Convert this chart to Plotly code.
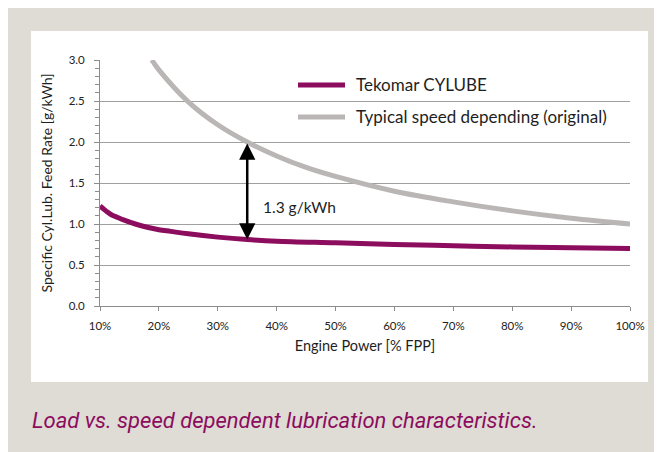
import plotly.graph_objects as go

# Data
power_cylube = [10, 11, 12, 13, 14, 16, 18, 20, 22, 25, 30, 35, 40, 50, 60, 70, 80, 90, 100]
rate_cylube = [1.22, 1.16, 1.11, 1.08, 1.05, 1.00, 0.96, 0.93, 0.91, 0.88, 0.84, 0.81, 0.79, 0.77, 0.75, 0.735, 0.72, 0.71, 0.70]

power_speed = [18.8, 20, 25, 30, 35, 40, 45, 50, 60, 70, 80, 90, 100]
rate_speed = [3.0, 2.88, 2.49, 2.21, 2.0, 1.83, 1.69, 1.58, 1.40, 1.27, 1.16, 1.07, 1.0]

x_ticks = [10, 20, 30, 40, 50, 60, 70, 80, 90, 100]
y_ticks = [0.0, 0.5, 1.0, 1.5, 2.0, 2.5, 3.0]

name_cylube = "Tekomar CYLUBE"
name_speed = "Typical speed depending (original)"
gap_label = "1.3 g/kWh"
gap_x = 35
gap_low, gap_high = 0.81, 2.0

PURPLE = "#8c0c5e"
GRAY = "#bab6b6"
BEIGE = "#dfdbd5"
FONT = "Lato, 'Open Sans', sans-serif"

# The page body adds an 8px white margin; the figure fills the rest of the window.
OFF = 8
W, H = 662 - OFF, 452 - OFF
# plot-area pixel geometry (window coordinates)
L, R, T, B = 100, 630, 60, 306
def px(x):
    return (x - L) / (R - L)
def py(y):
    return (B - y) / (B - T)

fig = go.Figure()
fig.add_trace(go.Scatter(x=power_speed, y=rate_speed, mode="lines", name=name_speed,
                         line=dict(color=GRAY, width=5, shape="spline"), showlegend=False))
fig.add_trace(go.Scatter(x=power_cylube, y=rate_cylube, mode="lines", name=name_cylube,
                         line=dict(color=PURPLE, width=5, shape="spline"), showlegend=False))

shapes = [
    dict(type="rect", xref="paper", yref="paper", x0=px(0), x1=px(700), y0=py(500), y1=py(OFF),
         fillcolor=BEIGE, line=dict(width=0), layer="below"),
    dict(type="rect", xref="paper", yref="paper", x0=px(31), x1=px(648), y0=py(382), y1=py(31),
         fillcolor="white", line=dict(width=0), layer="below"),
    # legend swatches
    dict(type="line", xref="paper", yref="paper", x0=px(298), x1=px(345), y0=py(85), y1=py(85),
         line=dict(color=PURPLE, width=5)),
    dict(type="line", xref="paper", yref="paper", x0=px(298), x1=px(345), y0=py(117), y1=py(117),
         line=dict(color=GRAY, width=5)),
]

annotations = [
    dict(xref="paper", yref="paper", x=px(354), y=py(84), text=name_cylube, showarrow=False,
         xanchor="left", yanchor="middle", font=dict(family=FONT, size=17, color="#1e1e1e")),
    dict(xref="paper", yref="paper", x=px(354), y=py(116), text=name_speed, showarrow=False,
         xanchor="left", yanchor="middle", font=dict(family=FONT, size=17, color="#1e1e1e")),
    dict(x=gap_x, y=gap_low, ax=gap_x, ay=gap_high, xref="x", yref="y", axref="x", ayref="y",
         text="", showarrow=True, arrowside="end+start", arrowhead=2, startarrowhead=2,
         arrowsize=1.3, startarrowsize=1.3, arrowwidth=2.5, arrowcolor="black"),
    dict(x=37.4, y=1.21, xref="x", yref="y", text=gap_label, showarrow=False, xanchor="left",
         yanchor="middle", font=dict(family=FONT, size=15.5, color="#1e1e1e")),
    dict(xref="paper", yref="paper", x=px(30), y=py(420), text="Load vs. speed dependent lubrication characteristics.",
         showarrow=False, xanchor="left", yanchor="middle",
         font=dict(family="Roboto, sans-serif", size=22, color=PURPLE, style="italic")),
]

fig.update_layout(
    width=W, height=H,
    margin=dict(l=L - OFF, r=662 - R, t=T - OFF, b=452 - B, pad=0),
    paper_bgcolor="white", plot_bgcolor="rgba(0,0,0,0)",
    shapes=shapes, annotations=annotations, showlegend=False,
    font=dict(family=FONT, size=11, color="#222"),
    xaxis=dict(range=[10, 100], tickvals=x_ticks, ticktext=[f"{v}%" for v in x_ticks],
               showgrid=False, zeroline=False, showline=True, linecolor="#8c8c8c", linewidth=1,
               ticks="outside", ticklen=4, tickcolor="#8c8c8c", ticklabelstandoff=5,
               tickfont=dict(family=FONT, size=11.5, color="#222"),
               title=dict(text="Engine Power [% FPP]", font=dict(family=FONT, size=14.5, color="#1e1e1e"),
                          standoff=10)),
    yaxis=dict(range=[0, 3], tickvals=y_ticks, ticktext=[f"{v:.1f}" for v in y_ticks],
               showgrid=True, gridcolor="#a0a0a0", gridwidth=1, zeroline=False,
               showline=True, linecolor="#8c8c8c", linewidth=1,
               ticks="outside", ticklen=5, tickcolor="#8c8c8c", ticklabelstandoff=7,
               minor=dict(dtick=0.1, ticks="outside", ticklen=4, tickcolor="#8c8c8c", showgrid=False),
               tickfont=dict(family=FONT, size=11.5, color="#222"),
               title=dict(text="Specific Cyl.Lub. Feed Rate [g/kWh]",
                          font=dict(family=FONT, size=14, color="#1e1e1e"), standoff=12)),
)

fig.write_html("out.html")
